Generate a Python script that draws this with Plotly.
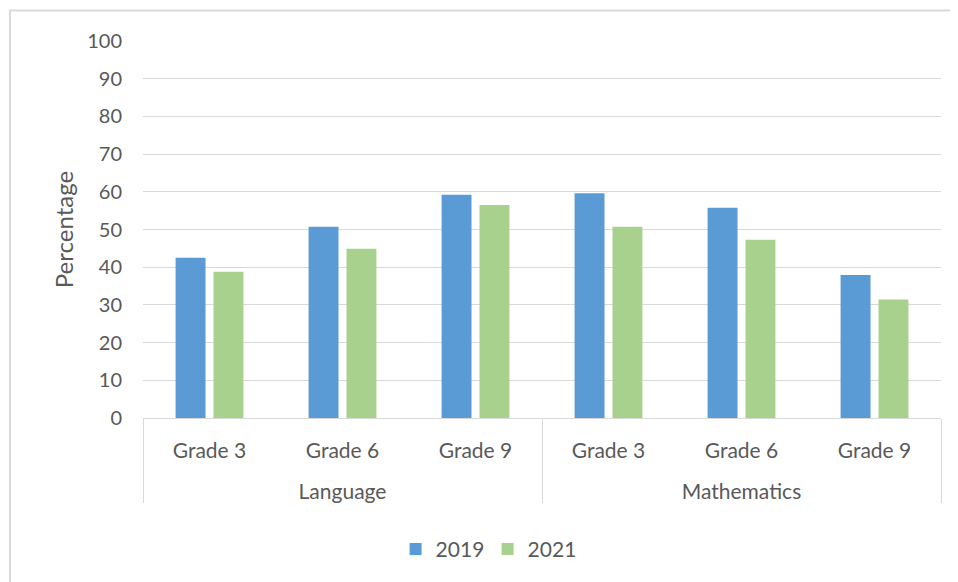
import plotly.graph_objects as go

subjects = ["Language", "Language", "Language", "Mathematics", "Mathematics", "Mathematics"]
grades = ["Grade 3", "Grade 6", "Grade 9", "Grade 3", "Grade 6", "Grade 9"]
values_2019 = [42.5, 50.7, 59.2, 59.6, 55.8, 37.9]
values_2021 = [38.8, 44.9, 56.5, 50.7, 47.3, 31.4]
series_names = ["2019", "2021"]
colors = ["#5b9bd5", "#a9d18e"]

FONT = "Lato"
GREY = "#595959"

# page body has an 8px margin: shrink the figure so it fills the 958x582 window
W, H = 950, 574
L, T, R, B = 135, 32.5, 17, 163.5
PW, PH = W - L - R, H - T - B

subject_labels = ["<br>" + s for s in subjects]

fig = go.Figure()
for name, vals, col in zip(series_names, [values_2019, values_2021], colors):
    fig.add_trace(go.Bar(
        x=[subject_labels, grades], y=vals, name=name,
        marker=dict(color=col, line=dict(width=0)),
    ))

fig.update_layout(
    width=W, height=H,
    paper_bgcolor="white", plot_bgcolor="white",
    margin=dict(l=L, r=R, t=T, b=B, autoexpand=False),
    barmode="group", bargap=0.43, bargroupgap=0.21,
    font=dict(family=FONT, color=GREY, size=20),
    showlegend=True,
    legend=dict(orientation="h", xref="container", yref="container",
                x=0.408, xanchor="left", y=0.057, yanchor="middle",
                font=dict(size=21, color=GREY), itemwidth=30, traceorder="normal",
                entrywidth=47, entrywidthmode="pixels"),
    xaxis=dict(
        type="multicategory", showgrid=False,
        showline=True, linecolor="#d9d9d9", linewidth=1,
        ticks="", tickfont=dict(size=21, color=GREY), ticklabelstandoff=14,
        showdividers=True, dividercolor="#d9d9d9", dividerwidth=1,
    ),
    yaxis=dict(
        range=[0, 100], dtick=10, tick0=0,
        showgrid=True, gridcolor="#d9d9d9", gridwidth=1,
        zeroline=False, showline=False, ticks="",
        tickfont=dict(size=20, color=GREY), ticklabelstandoff=20,
        title=dict(text="Percentage", font=dict(size=24, color=GREY), standoff=6),
    ),
    shapes=[dict(type="rect", xref="paper", yref="paper",
                 x0=(2 - L) / PW, x1=1.2, y0=-0.6, y1=(T + PH - 2) / PH,
                 line=dict(color="#d9d9d9", width=2), fillcolor="rgba(0,0,0,0)", layer="below")],
)
fig.write_html("out.html")
